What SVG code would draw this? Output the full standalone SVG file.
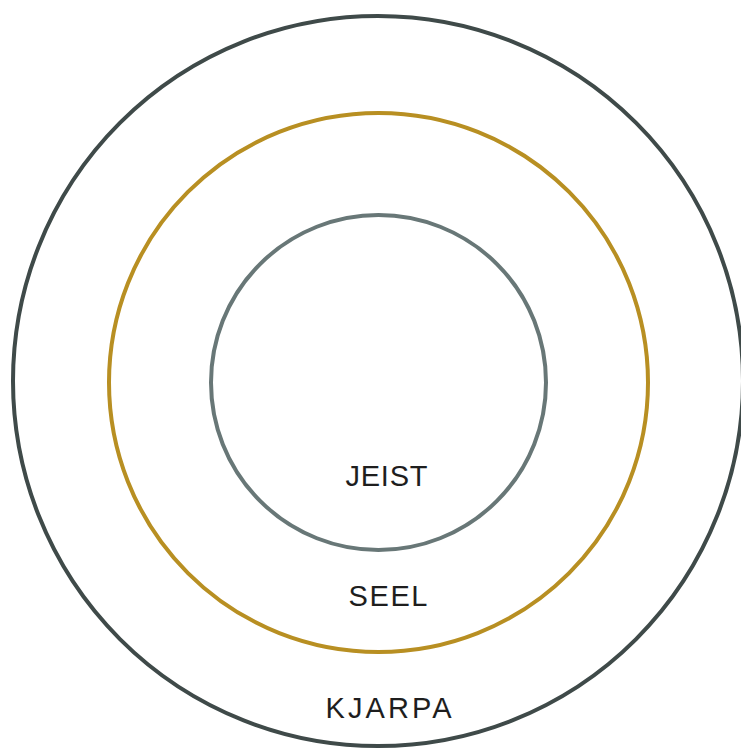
<svg xmlns="http://www.w3.org/2000/svg" width="741" height="750" viewBox="0 0 741 750">
<style>
.ring{fill:none;stroke-width:4}
.lbl{font-family:"Liberation Sans",Arial,sans-serif;font-size:29px;fill:#1e1e1e;text-anchor:middle}
</style>
<rect width="741" height="750" fill="#ffffff"/>
<g id="kjarpa">
<circle class="ring" cx="378" cy="381" r="365" stroke="#3f4a49"/>
<text class="lbl" x="388.5" y="718" textLength="126" lengthAdjust="spacing">KJARPA</text>
</g>
<g id="seel">
<circle class="ring" cx="378.5" cy="382.5" r="269.5" stroke="#b88f22"/>
<text class="lbl" x="388" y="606" textLength="79" lengthAdjust="spacing">SEEL</text>
</g>
<g id="jeist">
<circle class="ring" cx="378.5" cy="382.5" r="167.5" stroke="#687777"/>
<text class="lbl" x="386.5" y="486" textLength="82" lengthAdjust="spacing">JEIST</text>
</g>
<g id="connectors"/>
</svg>
